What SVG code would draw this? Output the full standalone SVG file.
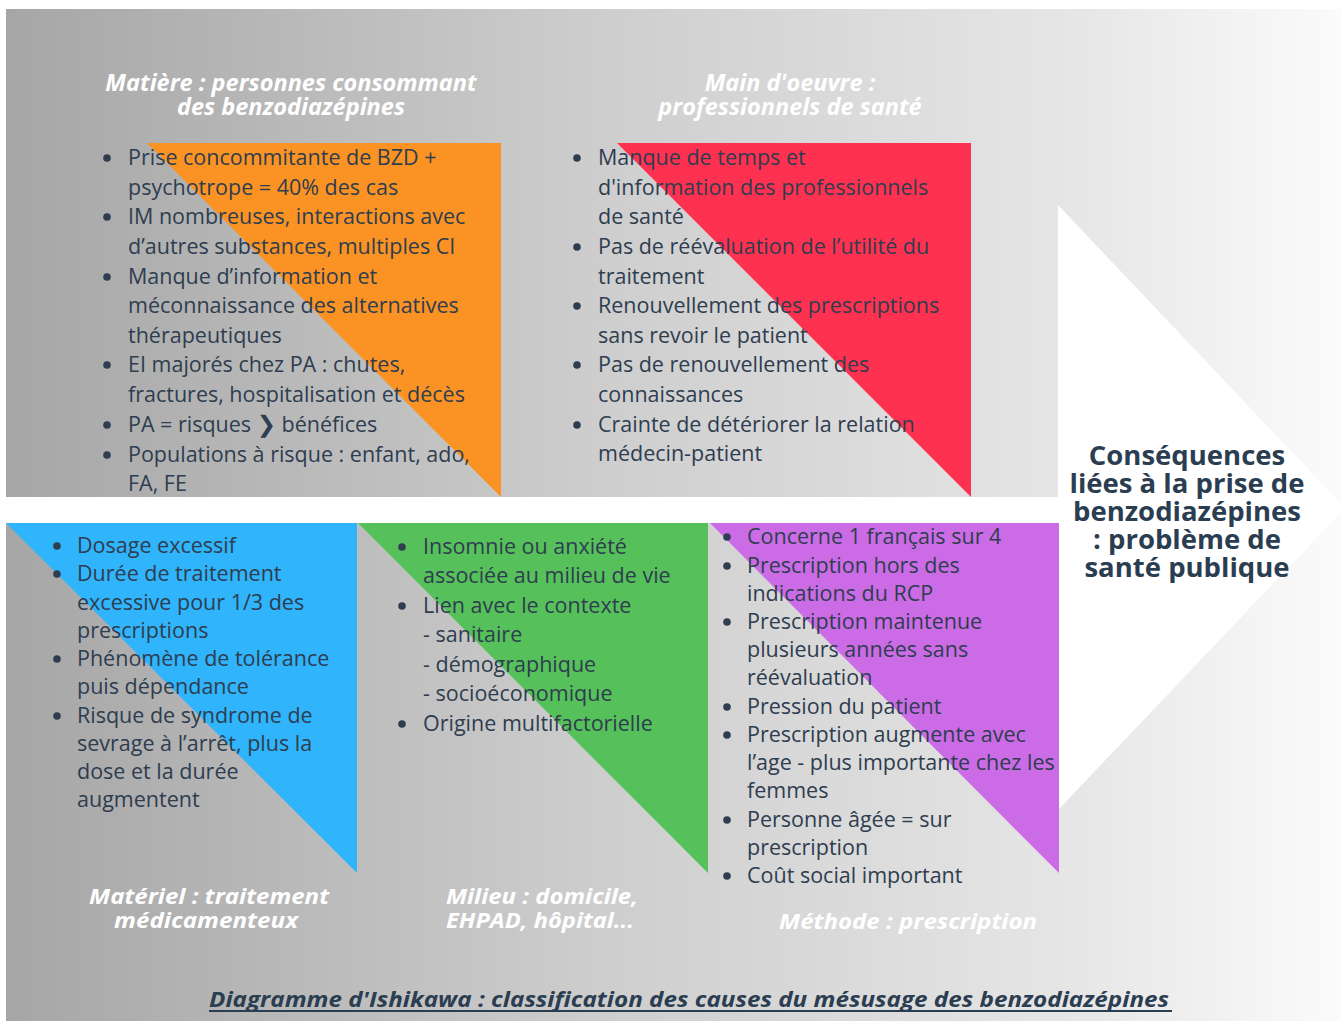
<svg xmlns="http://www.w3.org/2000/svg" width="1341" height="1021" viewBox="0 0 1341 1021">
<defs>
<linearGradient id="bg" x1="0" y1="0" x2="1" y2="0">
<stop offset="0" stop-color="#a6a6a6"/>
<stop offset="0.45" stop-color="#cecece"/>
<stop offset="0.8" stop-color="#e6e6e6"/>
<stop offset="1" stop-color="#fbfbfb"/>
</linearGradient>
<style>
.b{font-family:"Open Sans","Noto Sans",sans-serif;font-size:21.5px;fill:#2e3d4f}
.d{fill:#2e3d4f}
.t{font-family:"Open Sans","Noto Sans",sans-serif;font-size:23.5px;font-weight:700;font-style:italic;fill:#ffffff;text-anchor:middle}
.c{font-family:"Open Sans","Noto Sans",sans-serif;font-size:22px;font-weight:700;font-style:italic;fill:#ffffff}
.r{font-family:"Open Sans","Noto Sans",sans-serif;font-size:27.5px;font-weight:700;fill:#2b3d51;text-anchor:middle}
</style>
</defs>
<rect width="1341" height="1021" fill="#ffffff"/>
<rect x="6" y="9" width="1335" height="1012" fill="url(#bg)"/>
<rect x="6" y="497" width="1060" height="26" fill="#ffffff"/>
<polygon points="1058,205 1345,508 1058,810" fill="#ffffff"/>

<g id="matiere">
<polygon points="147,143 501,143 501,497" fill="#fb9324"/>
<text class="t" x="291" y="91">Matière : personnes consommant</text>
<text class="t" x="291" y="115">des benzodiazépines</text>
<g class="d"><circle cx="107" cy="158" r="3.8"/><circle cx="107" cy="217" r="3.8"/><circle cx="107" cy="277" r="3.8"/><circle cx="107" cy="365" r="3.8"/><circle cx="107" cy="425" r="3.8"/><circle cx="107" cy="455" r="3.8"/></g>
<text class="b" x="128" y="165">Prise concommitante de BZD +</text>
<text class="b" x="128" y="195">psychotrope = 40% des cas</text>
<text class="b" x="128" y="224">IM nombreuses, interactions avec</text>
<text class="b" x="128" y="254">d’autres substances, multiples CI</text>
<text class="b" x="128" y="284">Manque d’information et</text>
<text class="b" x="128" y="313">méconnaissance des alternatives</text>
<text class="b" x="128" y="343">thérapeutiques</text>
<text class="b" x="128" y="372">EI majorés chez PA : chutes,</text>
<text class="b" x="128" y="402">fractures, hospitalisation et décès</text>
<text class="b" x="128" y="432">PA = risques <tspan font-family="DejaVu Sans" font-weight="700" font-size="23">❯</tspan> bénéfices</text>
<text class="b" x="128" y="462">Populations à risque : enfant, ado,</text>
<text class="b" x="128" y="491">FA, FE</text>
</g>

<g id="main-oeuvre">
<polygon points="617,143 971,143 971,497" fill="#ff3150"/>
<text class="t" x="790" y="91">Main d'oeuvre :</text>
<text class="t" x="790" y="115">professionnels de santé</text>
<g class="d"><circle cx="577" cy="158" r="3.8"/><circle cx="577" cy="247" r="3.8"/><circle cx="577" cy="306" r="3.8"/><circle cx="577" cy="365" r="3.8"/><circle cx="577" cy="425" r="3.8"/></g>
<text class="b" x="598" y="165">Manque de temps et</text>
<text class="b" x="598" y="195">d'information des professionnels</text>
<text class="b" x="598" y="224">de santé</text>
<text class="b" x="598" y="254">Pas de réévaluation de l’utilité du</text>
<text class="b" x="598" y="284">traitement</text>
<text class="b" x="598" y="313">Renouvellement des prescriptions</text>
<text class="b" x="598" y="343">sans revoir le patient</text>
<text class="b" x="598" y="372">Pas de renouvellement des</text>
<text class="b" x="598" y="402">connaissances</text>
<text class="b" x="598" y="432">Crainte de détériorer la relation</text>
<text class="b" x="598" y="461">médecin-patient</text>
</g>

<g id="materiel">
<polygon points="6,523 357,523 357,873" fill="#30b4fb"/>
<g class="d"><circle cx="57" cy="546" r="3.8"/><circle cx="57" cy="574" r="3.8"/><circle cx="57" cy="659" r="3.8"/><circle cx="57" cy="716" r="3.8"/></g>
<text class="b" x="77" y="553">Dosage excessif</text>
<text class="b" x="77" y="581">Durée de traitement</text>
<text class="b" x="77" y="610">excessive pour 1/3 des</text>
<text class="b" x="77" y="638">prescriptions</text>
<text class="b" x="77" y="666">Phénomène de tolérance</text>
<text class="b" x="77" y="694">puis dépendance</text>
<text class="b" x="77" y="723">Risque de syndrome de</text>
<text class="b" x="77" y="751">sevrage à l’arrêt, plus la</text>
<text class="b" x="77" y="779">dose et la durée</text>
<text class="b" x="77" y="807">augmentent</text>
<text class="c" x="89" y="904" textLength="240" lengthAdjust="spacingAndGlyphs">Matériel : traitement</text>
<text class="c" x="114" y="928" textLength="184" lengthAdjust="spacingAndGlyphs">médicamenteux</text>
</g>

<g id="milieu">
<polygon points="358,523 708,523 708,873" fill="#56c15a"/>
<g class="d"><circle cx="402" cy="547" r="3.8"/><circle cx="402" cy="606" r="3.8"/><circle cx="402" cy="724" r="3.8"/></g>
<text class="b" x="423" y="554">Insomnie ou anxiété</text>
<text class="b" x="423" y="583">associée au milieu de vie</text>
<text class="b" x="423" y="613">Lien avec le contexte</text>
<text class="b" x="423" y="642">- sanitaire</text>
<text class="b" x="423" y="672">- démographique</text>
<text class="b" x="423" y="701">- socioéconomique</text>
<text class="b" x="423" y="731">Origine multifactorielle</text>
<text class="c" x="446" y="904" textLength="192" lengthAdjust="spacingAndGlyphs">Milieu : domicile,</text>
<text class="c" x="446" y="928" textLength="188" lengthAdjust="spacingAndGlyphs">EHPAD, hôpital...</text>
</g>

<g id="methode">
<polygon points="710,523 1059,523 1059,873" fill="#cb6ce6"/>
<g class="d"><circle cx="727" cy="537" r="3.8"/><circle cx="727" cy="566" r="3.8"/><circle cx="727" cy="622" r="3.8"/><circle cx="727" cy="707" r="3.8"/><circle cx="727" cy="735" r="3.8"/><circle cx="727" cy="820" r="3.8"/><circle cx="727" cy="876" r="3.8"/></g>
<text class="b" x="747" y="544">Concerne 1 français sur 4</text>
<text class="b" x="747" y="573">Prescription hors des</text>
<text class="b" x="747" y="601">indications du RCP</text>
<text class="b" x="747" y="629">Prescription maintenue</text>
<text class="b" x="747" y="657">plusieurs années sans</text>
<text class="b" x="747" y="685">réévaluation</text>
<text class="b" x="747" y="714">Pression du patient</text>
<text class="b" x="747" y="742">Prescription augmente avec</text>
<text class="b" x="747" y="770">l’age - plus importante chez les</text>
<text class="b" x="747" y="798">femmes</text>
<text class="b" x="747" y="827">Personne âgée = sur</text>
<text class="b" x="747" y="855">prescription</text>
<text class="b" x="747" y="883">Coût social important</text>
<text class="c" x="779" y="929" textLength="258" lengthAdjust="spacingAndGlyphs">Méthode : prescription</text>
</g>

<g id="consequences">
<text class="r" x="1187" y="465">Conséquences</text>
<text class="r" x="1187" y="493">liées à la prise de</text>
<text class="r" x="1187" y="521">benzodiazépines</text>
<text class="r" x="1187" y="549">: problème de</text>
<text class="r" x="1187" y="577">santé publique</text>
</g>

<g id="connectors"></g>

<g id="caption">
<text class="c" x="209" y="1007" textLength="960" lengthAdjust="spacingAndGlyphs" style="fill:#2b3d51">Diagramme d'Ishikawa : classification des causes du mésusage des benzodiazépines</text>
<rect x="209" y="1010" width="963" height="2" fill="#2b3d51"/>
</g>
</svg>
